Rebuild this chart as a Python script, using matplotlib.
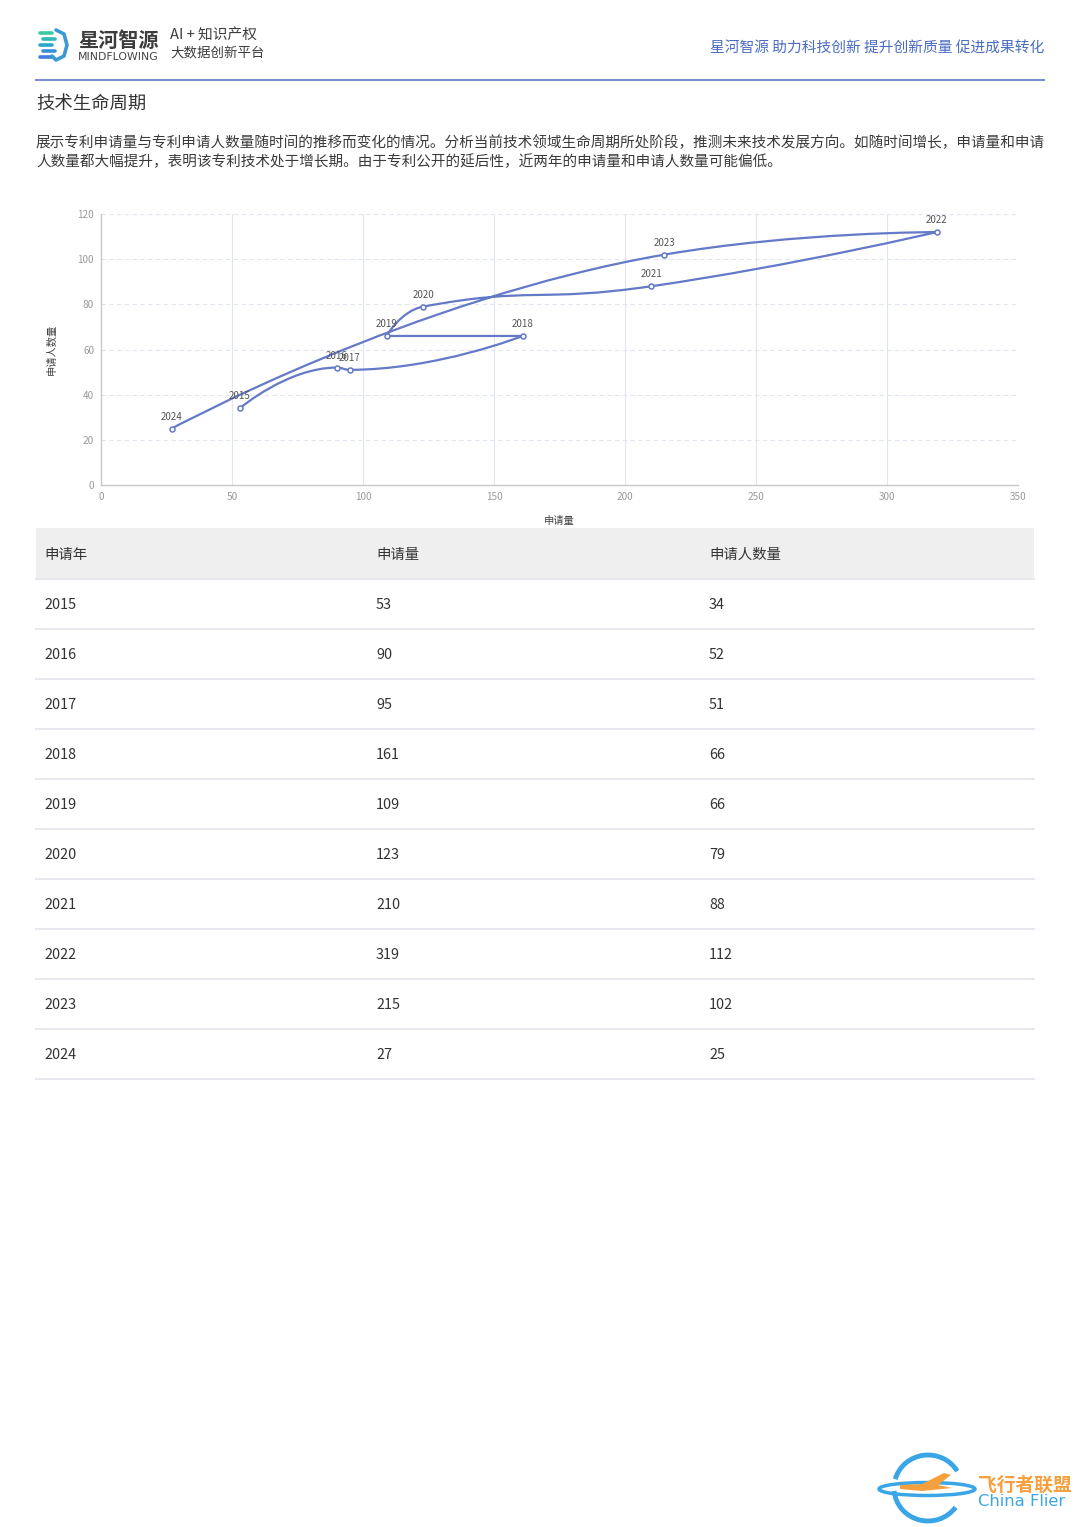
import numpy as np
import matplotlib
matplotlib.use("Agg")
import matplotlib.pyplot as plt
from matplotlib.path import Path
from matplotlib.patches import PathPatch, Rectangle, Ellipse, Polygon, Arc

plt.rcParams['font.family'] = ['Noto Sans CJK SC', 'DejaVu Sans']

years = ['2015', '2016', '2017', '2018', '2019', '2020', '2021', '2022', '2023', '2024']
applications = [53, 90, 95, 161, 109, 123, 210, 319, 215, 27]
applicants = [34, 52, 51, 66, 66, 79, 88, 112, 102, 25]

x_ticks = [0, 50, 100, 150, 200, 250, 300, 350]
y_ticks = [0, 20, 40, 60, 80, 100, 120]
table_header = ['申请年', '申请量', '申请人数量']

W, H = 1080, 1527
LINE = '#6479c8'

fig = plt.figure(figsize=(W / 100, H / 100), dpi=100)

# page overlay in pixel coordinates
page = fig.add_axes([0, 0, 1, 1])
page.set_xlim(0, W)
page.set_ylim(H, 0)
page.axis('off')

# ---- header ----
# logo icon: stripes + hexagon
cols = ['#3cc8a0', '#2fb9b4', '#2aa6c8', '#3690d8', '#3f7fe0']
for i, c in enumerate(cols):
    yy = 33 + i * 6
    page.plot([40 + (i % 2) * 3, 52 + (i % 2) * 3], [yy, yy], color=c, lw=2.6,
              solid_capstyle='round')
hx = [56, 64, 67, 64, 56, 52]
hy = [30, 34, 45, 56, 60, 56]
page.plot(hx, hy, color='#3a9ad8', lw=2.6, solid_capstyle='round')
page.text(78, 40, '星河智源', fontsize=14.5, fontweight='bold', color='#3d3d3d',
          va='center', ha='left')
page.text(78, 57, 'MINDFLOWING', fontsize=7.8, color='#444444', va='center',
          ha='left', family='DejaVu Sans')
page.text(170, 36, 'AI + 知识产权', fontsize=10.6, color='#3d3d3d', va='center', ha='left')
page.text(170, 53, '大数据创新平台', fontsize=9.7, color='#3d3d3d', va='center', ha='left')

page.text(1044, 48, '星河智源 助力科技创新 提升创新质量 促进成果转化', fontsize=10.6,
          color='#4a6cc4', va='center', ha='right')
page.plot([36, 1044], [80, 80], color='#7b8fd0', lw=1.5)

page.text(36, 104, '技术生命周期', fontsize=13.2, color='#333333', va='center', ha='left')
page.text(36, 143, '展示专利申请量与专利申请人数量随时间的推移而变化的情况。分析当前技术领域生命周期所处阶段，'
          '推测未来技术发展方向。如随时间增长，申请量和申请', fontsize=10.5, color='#3a3a3a',
          va='center', ha='left')
page.text(36, 162, '人数量都大幅提升，表明该专利技术处于增长期。由于专利公开的延后性，近两年的申请量和申请人数量可能偏低。',
          fontsize=10.5, color='#3a3a3a', va='center', ha='left')

# ---- table ----
page.add_patch(Rectangle((36, 528), 998, 51, facecolor='#efefef', edgecolor='none'))
col_x = [44, 376, 709]
for cx, h in zip(col_x, table_header):
    page.text(cx, 555, h, fontsize=10.4, color='#333333', va='center', ha='left')
page.plot([36, 1034], [579, 579], color='#e6e8ee', lw=1.4)
for i, (yr, a, b) in enumerate(zip(years, applications, applicants)):
    yy = 605 + 50 * i
    for cx, v in zip(col_x, [yr, a, b]):
        page.text(cx, yy, str(v), fontsize=10.4, color='#333333', va='center', ha='left')
    page.plot([36, 1034], [yy + 24, yy + 24], color='#e6e8ee', lw=1.4)

# ---- watermark ----
page.add_patch(Arc((928, 1488), 68, 66, theta1=35, theta2=175, color='#3aa6e6', lw=3.5))
page.add_patch(Arc((928, 1488), 68, 66, theta1=195, theta2=330, color='#3aa6e6', lw=3.5))
page.add_patch(Ellipse((927, 1489), 96, 13, facecolor='none', edgecolor='#3aa6e6', lw=2.5))
page.add_patch(Polygon([[900, 1485], [922, 1484], [944, 1473], [951, 1475], [938, 1485],
                        [952, 1488], [922, 1491], [900, 1489]],
                       closed=True, facecolor='#f5a03c', edgecolor='none'))
page.text(978, 1485, '飞行者联盟', fontsize=13.5, fontweight='bold', color='#f5a03c',
          va='center', ha='left')
page.text(978, 1502, 'China Flier', fontsize=11.8, color='#3aa6e6', va='center', ha='left',
          family='DejaVu Sans')

# ---- chart ----
ax = fig.add_axes([101 / W, 1 - 485 / H, (1018 - 101) / W, (485 - 214) / H])
ax.set_xlim(0, 350)
ax.set_ylim(0, 120)
ax.set_xticks(x_ticks)
ax.set_yticks(y_ticks)
ax.tick_params(length=0, labelsize=7.2, labelcolor='#9a9a9a', pad=5)
for s in ['top', 'right']:
    ax.spines[s].set_visible(False)
for s in ['left', 'bottom']:
    ax.spines[s].set_color('#c8c8c8')
    ax.spines[s].set_linewidth(1)
for xv in x_ticks[1:]:
    ax.axvline(xv, color='#e0e6f1', lw=0.8, zorder=0)
for yv in y_ticks[1:]:
    ax.axhline(yv, color='#e0e6f1', lw=0.8, ls=(0, (4, 3)), zorder=0)

# echarts-like smooth curve (with extreme clamping), computed in pixel space
pts = ax.transData.transform(np.column_stack([applications, applicants]))
smooth = 0.5
verts = [pts[0]]
codes = [Path.MOVETO]
cp0 = pts[0].copy()
n = len(pts)
for i in range(1, n):
    x, y = pts[i]
    px, py = pts[i - 1]
    if i == n - 1:
        cp1 = np.array([x, y])
        nxt_cp0 = None
    else:
        nx, ny = pts[i + 1]
        vx, vy = nx - px, ny - py
        lp = np.hypot(x - px, y - py)
        ln = np.hypot(nx - x, ny - y)
        r = ln / (ln + lp)
        ncx = x + vx * smooth * r
        ncy = y + vy * smooth * r
        ncx = max(min(ncx, max(nx, x)), min(nx, x))
        ncy = max(min(ncy, max(ny, y)), min(ny, y))
        vx, vy = ncx - x, ncy - y
        c1x = x - vx * lp / ln
        c1y = y - vy * lp / ln
        c1x = max(min(c1x, max(px, x)), min(px, x))
        c1y = max(min(c1y, max(py, y)), min(py, y))
        vx, vy = x - c1x, y - c1y
        ncx = x + vx * ln / lp
        ncy = y + vy * ln / lp
        cp1 = np.array([c1x, c1y])
        nxt_cp0 = np.array([ncx, ncy])
    verts += [cp0, cp1, np.array([x, y])]
    codes += [Path.CURVE4] * 3
    cp0 = nxt_cp0
verts = ax.transData.inverted().transform(np.array(verts))
ax.add_patch(PathPatch(Path(verts, codes), facecolor='none', edgecolor=LINE, lw=1.6,
                       zorder=3))
ax.plot(applications, applicants, ls='none', marker='o', ms=3.6, mfc='white',
        mec=LINE, mew=1.1, zorder=4)
for yr, a, b in zip(years, applications, applicants):
    ax.annotate(yr, (a, b), xytext=(0, 8.6), textcoords='offset points', ha='center',
                va='center', fontsize=7, color='#555555', zorder=5)

ax.set_xlabel('申请量', fontsize=7.4, color='#444444', labelpad=10)
ax.set_ylabel('申请人数量', fontsize=7.4, color='#444444', labelpad=15)

fig.savefig('out.png', dpi=100)
